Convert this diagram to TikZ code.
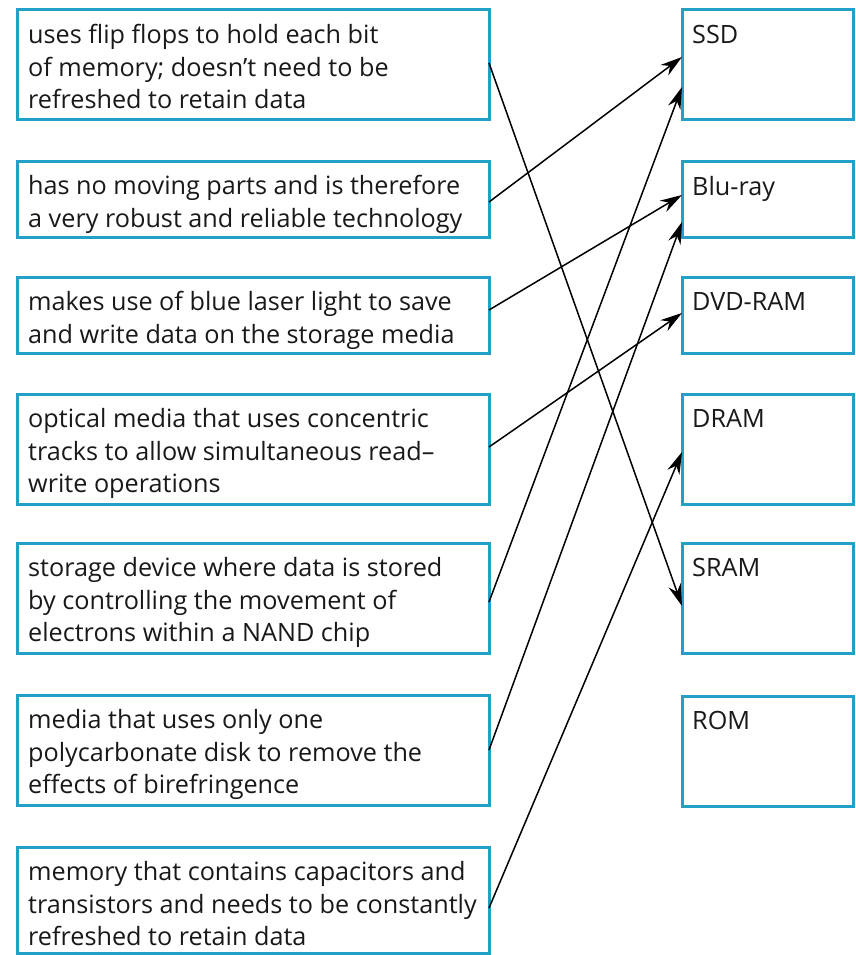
\documentclass[tikz,border=0pt]{standalone}
\usepackage{fontspec}
\setmainfont{Open Sans}
\usetikzlibrary{arrows.meta,calc}
\definecolor{boxblue}{RGB}{34,160,200}
\definecolor{txtc}{RGB}{25,25,25}
\begin{document}
\begin{tikzpicture}[x=1pt,y=-1pt,
  lbox/.style={draw=boxblue, line width=3pt, anchor=north west, outer sep=0pt, inner sep=0pt, minimum width=472pt},
  rbox/.style={draw=boxblue, line width=3pt, anchor=north west, outer sep=0pt, inner sep=0pt, minimum width=171pt},
  txt/.style={anchor=north west, align=left, inner sep=0pt, font=\fontsize{25.2}{32.7}\selectfont, text=txtc},
  arr/.style={draw=black, line width=1.5pt, -{Stealth[length=22pt,width=13pt]}}]
\fill[white] (0,0) rectangle (855,955);
\useasboundingbox (0,0) rectangle (855,955);

% left boxes
\node[lbox, minimum height=110pt] (b1) at (17,10) {};
\node[lbox, minimum height=76pt] (b2) at (17,161) {};
\node[lbox, minimum height=76pt] (b3) at (17,277) {};
\node[lbox, minimum height=110pt] (b4) at (17,394) {};
\node[lbox, minimum height=110pt] (b5) at (17,543) {};
\node[lbox, minimum height=110pt] (b6) at (17,695) {};
\node[lbox, minimum height=106pt] (b7) at (17,847) {};

% right boxes
\node[rbox, minimum height=110pt] (ssd) at (682,10) {};
\node[rbox, minimum height=76pt] (blu) at (682,161) {};
\node[rbox, minimum height=76pt] (dvd) at (682,277) {};
\node[rbox, minimum height=110pt] (dram) at (682,394) {};
\node[rbox, minimum height=110pt] (sram) at (682,543) {};
\node[rbox, minimum height=110pt] (rom) at (682,696) {};

% texts
\node[txt] (t1) at ([xshift=11pt,yshift=-14pt]b1.north west) {uses flip flops to hold each bit\\of memory; doesn’t need to be\\refreshed to retain data};
\node[txt] (t2) at ([xshift=11pt,yshift=-14pt]b2.north west) {has no moving parts and is therefore\\a very robust and reliable technology};
\node[txt] (t3) at ([xshift=11pt,yshift=-14pt]b3.north west) {makes use of blue laser light to save\\and write data on the storage media};
\node[txt] (t4) at ([xshift=11pt,yshift=-14pt]b4.north west) {optical media that uses concentric\\tracks to allow simultaneous read–\\write operations};
\node[txt] (t5) at ([xshift=11pt,yshift=-14pt]b5.north west) {storage device where data is stored\\by controlling the movement of\\electrons within a NAND chip};
\node[txt] (t6) at ([xshift=11pt,yshift=-14pt]b6.north west) {media that uses only one\\polycarbonate disk to remove the\\effects of birefringence};
\node[txt] (t7) at ([xshift=11pt,yshift=-14pt]b7.north west) {memory that contains capacitors and\\transistors and needs to be constantly\\refreshed to retain data};

\node[txt] (r1) at ([xshift=10pt,yshift=-15pt]ssd.north west) {SSD};
\node[txt] (r2) at ([xshift=10pt,yshift=-15pt]blu.north west) {Blu-ray};
\node[txt] (r3) at ([xshift=10pt,yshift=-15pt]dvd.north west) {DVD-RAM};
\node[txt] (r4) at ([xshift=10pt,yshift=-15pt]dram.north west) {DRAM};
\node[txt] (r5) at ([xshift=10pt,yshift=-15pt]sram.north west) {SRAM};
\node[txt] (r6) at ([xshift=10pt,yshift=-15pt]rom.north west) {ROM};

% connectors
\draw[arr] ([yshift=-53pt]b1.north east) -- ([yshift=-63pt]sram.north west);
\draw[arr] ([yshift=-41pt]b2.north east) -- ([yshift=-47pt]ssd.north west);
\draw[arr] ([yshift=-33pt]b3.north east) -- ([yshift=-34pt]blu.north west);
\draw[arr] ([yshift=-53pt]b4.north east) -- ([yshift=-36pt]dvd.north west);
\draw[arr] ([yshift=-59pt]b5.north east) -- ([yshift=-77pt]ssd.north west);
\draw[arr] ([yshift=-55pt]b6.north east) -- ([yshift=-61pt]blu.north west);
\draw[arr] ([yshift=-61pt]b7.north east) -- ([yshift=-58pt]dram.north west);
\end{tikzpicture}
\end{document}
